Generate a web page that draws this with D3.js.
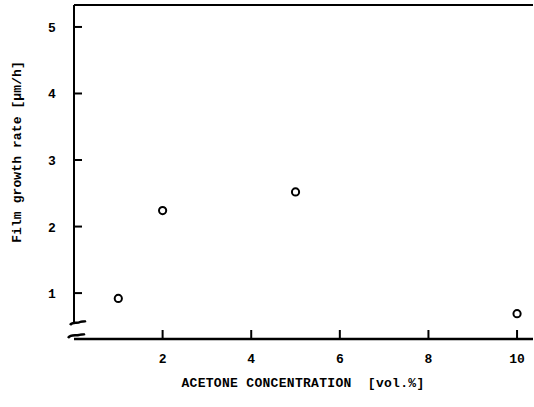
<!DOCTYPE html>
<html>
<head>
<meta charset="utf-8">
<script src="https://cdn.jsdelivr.net/npm/d3@7"></script>
<style>
  body { margin: 0; background: #fff; }
  svg text { font-family: "Liberation Mono", "DejaVu Sans Mono", monospace; font-weight: bold; fill: #000; }
</style>
</head>
<body>
<div id="chart"></div>
<script>
// acetone concentration [vol.%] vs film growth rate [um/h]
var concentration = [1, 2, 5, 10];
var growthRate = [0.92, 2.24, 2.52, 0.69];
var xTicks = [2, 4, 6, 8, 10];
var yTicks = [1, 2, 3, 4, 5];

var width = 534, height = 407;

var svg = d3.select("#chart")
  .append("svg")
  .attr("width", width)
  .attr("height", height);

var x = d3.scaleLinear().domain([0, 10.36]).range([74, 533]);
var y = d3.scaleLinear().domain([0.31, 5.33]).range([339, 5]);

// top border
svg.append("line")
  .attr("x1", x(0)).attr("x2", x(10.36))
  .attr("y1", y(5.33)).attr("y2", y(5.33))
  .attr("stroke", "#000").attr("stroke-width", 2);

// left axis (broken near the bottom)
svg.append("line")
  .attr("x1", x(0)).attr("x2", x(0))
  .attr("y1", y(5.33)).attr("y2", 323)
  .attr("stroke", "#000").attr("stroke-width", 2);

// bottom axis
svg.append("line")
  .attr("x1", x(0)).attr("x2", x(10.36))
  .attr("y1", y(0.31)).attr("y2", y(0.31))
  .attr("stroke", "#000").attr("stroke-width", 2.5);

// break marks
svg.append("path")
  .attr("d", "M70,325 C73,321 77,324 80,322 C82,321 84,322 86,321")
  .attr("fill", "none").attr("stroke", "#000").attr("stroke-width", 2.5);
svg.append("path")
  .attr("d", "M68,338 C71,334 75,336 79,335 C81,334 83,335 85,334")
  .attr("fill", "none").attr("stroke", "#000").attr("stroke-width", 2.5);

// y ticks (inward)
svg.append("g").selectAll("line")
  .data(yTicks)
  .join("line")
  .attr("x1", x(0)).attr("x2", x(0) + 8)
  .attr("y1", d => y(d)).attr("y2", d => y(d))
  .attr("stroke", "#000").attr("stroke-width", 2);

svg.append("g").selectAll("text")
  .data(yTicks)
  .join("text")
  .attr("x", 52)
  .attr("y", d => y(d) + 5)
  .attr("text-anchor", "middle")
  .style("font-size", "13px")
  .text(d => d);

// x ticks (inward)
svg.append("g").selectAll("line")
  .data(xTicks)
  .join("line")
  .attr("x1", d => x(d)).attr("x2", d => x(d))
  .attr("y1", y(0.31)).attr("y2", y(0.31) - 9)
  .attr("stroke", "#000").attr("stroke-width", 2);

svg.append("g").selectAll("text")
  .data(xTicks)
  .join("text")
  .attr("x", d => x(d))
  .attr("y", 363)
  .attr("text-anchor", "middle")
  .style("font-size", "13px")
  .text(d => d);

// data points
svg.append("g").selectAll("circle")
  .data(concentration)
  .join("circle")
  .attr("cx", d => x(d))
  .attr("cy", (d, i) => y(growthRate[i]))
  .attr("r", 3.6)
  .attr("fill", "#fff")
  .attr("stroke", "#000")
  .attr("stroke-width", 2);

// axis titles
svg.append("text")
  .attr("x", 303)
  .attr("y", 387)
  .attr("text-anchor", "middle")
  .style("font-size", "13px")
  .style("letter-spacing", "0.3px")
  .attr("xml:space", "preserve")
  .text("ACETONE CONCENTRATION  [vol.%]");

svg.append("text")
  .attr("transform", "translate(21,152) rotate(-90)")
  .attr("text-anchor", "middle")
  .style("font-size", "13px")
  .style("letter-spacing", "0.1px")
  .text("Film growth rate [μm/h]");
</script>
</body>
</html>
